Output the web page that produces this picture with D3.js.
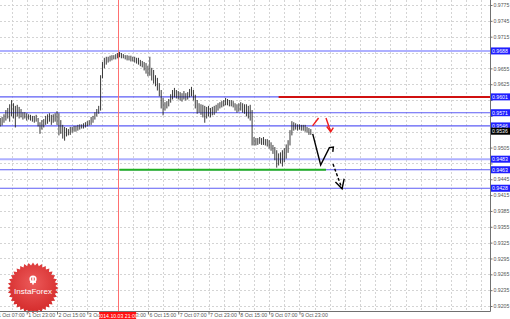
<!DOCTYPE html>
<html>
<head>
<meta charset="utf-8">
<script src="https://cdnjs.cloudflare.com/ajax/libs/d3/7.8.5/d3.min.js"></script>
<style>
  html, body { margin: 0; padding: 0; background: #fff; overflow: hidden; }
  svg { display: block; font-family: "Liberation Sans", Arial, sans-serif; }
</style>
</head>
<body>
<div id="chart"></div>
<script>
// hourly bars, high / low
const highs = [
  0.9561, 0.9563, 0.9568, 0.9576, 0.9580, 0.9587, 0.9595, 0.9589, 0.9584, 0.9586,
  0.9582, 0.9578, 0.9572, 0.9572, 0.9570, 0.9568, 0.9567, 0.9565, 0.9565, 0.9567,
  0.9561, 0.9553, 0.9557, 0.9559, 0.9565, 0.9568, 0.9570, 0.9567, 0.9568, 0.9570,
  0.9574, 0.9570, 0.9557, 0.9548, 0.9544, 0.9542, 0.9540, 0.9544, 0.9544, 0.9546,
  0.9546, 0.9548, 0.9549, 0.9549, 0.9551, 0.9553, 0.9555, 0.9557, 0.9563, 0.9565,
  0.9572, 0.9578, 0.9584, 0.9642, 0.9667, 0.9675, 0.9677, 0.9677, 0.9679, 0.9680,
  0.9680, 0.9682, 0.9684, 0.9686, 0.9684, 0.9682, 0.9680, 0.9680, 0.9679, 0.9679,
  0.9677, 0.9677, 0.9675, 0.9675, 0.9671, 0.9669, 0.9667, 0.9665, 0.9660, 0.9677,
  0.9656, 0.9652, 0.9642, 0.9637, 0.9627, 0.9614, 0.9599, 0.9591, 0.9593, 0.9597,
  0.9606, 0.9614, 0.9618, 0.9614, 0.9612, 0.9610, 0.9608, 0.9612, 0.9608, 0.9610,
  0.9616, 0.9620, 0.9614, 0.9605, 0.9595, 0.9589, 0.9587, 0.9586, 0.9584, 0.9582,
  0.9584, 0.9580, 0.9582, 0.9584, 0.9586, 0.9589, 0.9591, 0.9593, 0.9595, 0.9599,
  0.9597, 0.9595, 0.9595, 0.9593, 0.9589, 0.9587, 0.9589, 0.9591, 0.9589, 0.9587,
  0.9587, 0.9584, 0.9586, 0.9576, 0.9525, 0.9523, 0.9523, 0.9525, 0.9523, 0.9525,
  0.9521, 0.9521, 0.9519, 0.9515, 0.9510, 0.9506, 0.9500, 0.9494, 0.9496, 0.9500,
  0.9504, 0.9511, 0.9519, 0.9538, 0.9555, 0.9553, 0.9551, 0.9549, 0.9549, 0.9548,
  0.9548, 0.9548, 0.9544, 0.9542, 0.9540
];
const lows = [
  0.9546, 0.9548, 0.9553, 0.9557, 0.9561, 0.9555, 0.9565, 0.9561, 0.9544, 0.9565,
  0.9561, 0.9563, 0.9559, 0.9561, 0.9557, 0.9559, 0.9557, 0.9555, 0.9553, 0.9555,
  0.9546, 0.9532, 0.9540, 0.9544, 0.9549, 0.9551, 0.9555, 0.9549, 0.9553, 0.9555,
  0.9549, 0.9529, 0.9532, 0.9523, 0.9519, 0.9527, 0.9529, 0.9530, 0.9534, 0.9536,
  0.9536, 0.9538, 0.9540, 0.9542, 0.9542, 0.9544, 0.9546, 0.9548, 0.9549, 0.9553,
  0.9559, 0.9565, 0.9570, 0.9576, 0.9637, 0.9656, 0.9663, 0.9667, 0.9669, 0.9671,
  0.9673, 0.9673, 0.9675, 0.9677, 0.9675, 0.9675, 0.9673, 0.9671, 0.9671, 0.9669,
  0.9669, 0.9667, 0.9665, 0.9663, 0.9660, 0.9658, 0.9652, 0.9646, 0.9641, 0.9642,
  0.9633, 0.9627, 0.9622, 0.9614, 0.9603, 0.9580, 0.9567, 0.9576, 0.9580, 0.9584,
  0.9591, 0.9597, 0.9601, 0.9599, 0.9597, 0.9595, 0.9593, 0.9597, 0.9595, 0.9597,
  0.9601, 0.9603, 0.9595, 0.9580, 0.9570, 0.9572, 0.9568, 0.9563, 0.9553, 0.9561,
  0.9565, 0.9563, 0.9567, 0.9568, 0.9572, 0.9576, 0.9580, 0.9582, 0.9584, 0.9586,
  0.9586, 0.9584, 0.9584, 0.9582, 0.9576, 0.9572, 0.9574, 0.9576, 0.9572, 0.9570,
  0.9565, 0.9561, 0.9557, 0.9510, 0.9510, 0.9510, 0.9511, 0.9513, 0.9511, 0.9511,
  0.9510, 0.9508, 0.9504, 0.9500, 0.9494, 0.9482, 0.9468, 0.9472, 0.9476, 0.9470,
  0.9478, 0.9485, 0.9496, 0.9510, 0.9529, 0.9538, 0.9540, 0.9538, 0.9540, 0.9538,
  0.9538, 0.9536, 0.9534, 0.9530, 0.9530
];
const lastClose = 0.9536;

const priceTicks = [0.9775, 0.9745, 0.9715, 0.9685, 0.9655, 0.9625, 0.9595, 0.9565, 0.9535, 0.9505,
  0.9475, 0.9445, 0.9415, 0.9385, 0.9355, 0.9325, 0.9295, 0.9265, 0.9235, 0.9205];
const timeLabels = ['1 Oct 07:00', '1 Oct 23:00', '2 Oct 15:00', '3 Oct 07:00', '3 Oct 23:00',
  '6 Oct 15:00', '7 Oct 07:00', '7 Oct 23:00', '8 Oct 15:00', '9 Oct 07:00', '9 Oct 23:00'];
const firstLabelBar = -2;
const barsPerLabel = 16;

const levels = [0.9688, 0.9601, 0.9571, 0.9546, 0.9483, 0.9463, 0.9428];
const strongLevels = [0.9688, 0.9483];
const resistance = { price: 0.9601, from: 147 };
const support = { price: 0.9463, from: 63, to: 172 };
const marker = { bar: 62, label: '2014.10.03 21:00' };

// forecast arrows: [bar, price]
const arrowDown = [[165.0, 0.9531], [169.2, 0.9472], [173.8, 0.9505], [175.9, 0.9506], [175.6, 0.9497]];
const arrowDashed = [[175.7, 0.9474], [180.5, 0.9427]];
const arrowDashedHead = [[177.0, 0.9440], [180.5, 0.9427], [181.6, 0.9446]];
const redStroke = [[164.9, 0.9546], [168.1, 0.9561]];
const redArrow = [[172.0, 0.9561], [174.5, 0.9535]];
const redArrowHead = [[172.4, 0.9545], [174.5, 0.9535], [175.9, 0.9543]];

function drawChart() {
  const width = 510;
  const height = 319;
  const plotRight = 490;
  const plotBottom = 311;

  const svg = d3.select('#chart')
    .append('svg')
    .attr('width', width)
    .attr('height', height);

  const x = d3.scaleLinear().domain([0, 258.6]).range([0.2, plotRight]);
  const y = d3.scaleLinear().domain([0.9205, 0.9775]).range([306, 5]);

  // grid
  const gridBars = d3.range(firstLabelBar, 259, barsPerLabel / 2);
  svg.append('g')
    .selectAll('line')
    .data(gridBars)
    .enter()
    .append('line')
    .attr('x1', d => Math.round(x(d)) + 0.5)
    .attr('x2', d => Math.round(x(d)) + 0.5)
    .attr('y1', 0)
    .attr('y2', plotBottom)
    .attr('stroke', '#d4d4d4')
    .attr('stroke-dasharray', '2,2');

  svg.append('g')
    .selectAll('line')
    .data(priceTicks)
    .enter()
    .append('line')
    .attr('x1', 0)
    .attr('x2', plotRight)
    .attr('y1', d => Math.round(y(d)) + 0.5)
    .attr('y2', d => Math.round(y(d)) + 0.5)
    .attr('stroke', '#d4d4d4')
    .attr('stroke-dasharray', '2,2');

  // levels
  svg.append('g')
    .selectAll('line')
    .data(levels)
    .enter()
    .append('line')
    .attr('x1', 0)
    .attr('x2', plotRight)
    .attr('y1', d => y(d))
    .attr('y2', d => y(d))
    .attr('stroke', d => strongLevels.includes(d) ? '#aeb0ff' : '#5c5cf5')
    .attr('stroke-width', d => strongLevels.includes(d) ? 2 : 1.2);

  svg.append('line')
    .attr('x1', x(resistance.from))
    .attr('x2', plotRight)
    .attr('y1', y(resistance.price))
    .attr('y2', y(resistance.price))
    .attr('stroke', '#d01010')
    .attr('stroke-width', 2);

  svg.append('line')
    .attr('x1', x(support.from))
    .attr('x2', x(support.to))
    .attr('y1', y(support.price))
    .attr('y2', y(support.price))
    .attr('stroke', '#22b022')
    .attr('stroke-width', 2);

  // time marker
  svg.append('line')
    .attr('x1', Math.round(x(marker.bar)) + 0.5)
    .attr('x2', Math.round(x(marker.bar)) + 0.5)
    .attr('y1', 0)
    .attr('y2', plotBottom)
    .attr('stroke', '#ff7070');

  // bars
  svg.append('g')
    .selectAll('line')
    .data(highs)
    .enter()
    .append('line')
    .attr('x1', (d, i) => x(i))
    .attr('x2', (d, i) => x(i))
    .attr('y1', d => y(d))
    .attr('y2', (d, i) => y(lows[i]) + 0.5)
    .attr('stroke', '#222')
    .attr('stroke-width', 0.9);

  // forecast arrows
  const line = d3.line().x(d => x(d[0])).y(d => y(d[1]));
  const drawPath = (pts, color, dash) => svg.append('path')
    .attr('d', line(pts))
    .attr('fill', 'none')
    .attr('stroke', color)
    .attr('stroke-width', 1.4)
    .attr('stroke-dasharray', dash || null);
  drawPath(arrowDown, '#000');
  drawPath(arrowDashed, '#000', '3,2');
  drawPath(arrowDashedHead, '#000');
  drawPath(redStroke, '#ee1c1c');
  drawPath(redArrow, '#ee1c1c');
  drawPath(redArrowHead, '#ee1c1c');

  drawLogo(svg);

  // frame
  svg.append('path')
    .attr('d', `M0,${plotBottom + 0.5}H${plotRight + 0.5}V0`)
    .attr('fill', 'none')
    .attr('stroke', '#707070');

  const tags = levels.map(p => ({ p, fill: '#1e1eff' })).concat([{ p: lastClose, fill: '#000' }]);

  // price axis, labels hidden where a price tag sits on top of them
  const yAxis = svg.append('g')
    .attr('transform', `translate(${plotRight + 0.5},0)`)
    .call(d3.axisRight(y).tickValues(priceTicks).tickFormat(d3.format('.4f')).tickSize(2).tickSizeOuter(0));
  yAxis.select('.domain').remove();
  yAxis.selectAll('line').attr('stroke', '#707070');
  yAxis.selectAll('text')
    .attr('x', 3)
    .attr('font-size', 5.2)
    .attr('fill', '#555')
    .filter(d => tags.some(t => Math.abs(y(t.p) - y(d)) < 5))
    .remove();

  // time axis
  const tickBars = timeLabels.map((d, i) => firstLabelBar + i * barsPerLabel);
  const xAxis = svg.append('g')
    .attr('transform', `translate(0,${plotBottom + 0.5})`)
    .call(d3.axisBottom(x).tickValues(tickBars).tickFormat((d, i) => timeLabels[i]).tickSize(3).tickSizeOuter(0));
  xAxis.select('.domain').remove();
  xAxis.selectAll('line').attr('stroke', '#707070');
  xAxis.selectAll('text')
    .attr('text-anchor', 'start')
    .attr('x', 1)
    .attr('y', 1.5)
    .attr('font-size', 5.2)
    .attr('fill', '#555');

  // marker label
  const mx = x(marker.bar);
  svg.append('rect')
    .attr('x', mx - 18.5)
    .attr('y', plotBottom + 1)
    .attr('width', 37)
    .attr('height', 7)
    .attr('fill', '#ff1010');
  svg.append('text')
    .attr('x', mx)
    .attr('y', plotBottom + 6.6)
    .attr('text-anchor', 'middle')
    .attr('font-size', 5.2)
    .attr('fill', '#fff')
    .text(marker.label);

  // price tags
  tags.forEach(t => {
    svg.append('rect')
      .attr('x', plotRight + 1)
      .attr('y', y(t.p) - 3.5)
      .attr('width', 19)
      .attr('height', 7)
      .attr('fill', t.fill);
    svg.append('text')
      .attr('x', plotRight + 2)
      .attr('y', y(t.p) + 2)
      .attr('font-size', 5.2)
      .attr('fill', '#fff')
      .text(d3.format('.4f')(t.p));
  });
}

function drawLogo(svg) {
  const cx = 33, cy = 288, spikes = 36;
  const defs = svg.append('defs');
  const grad = defs.append('radialGradient').attr('id', 'logoGrad').attr('cx', '50%').attr('cy', '40%').attr('r', '60%');
  grad.append('stop').attr('offset', '0%').attr('stop-color', '#ec5a5a');
  grad.append('stop').attr('offset', '100%').attr('stop-color', '#d42a2a');

  const pts = d3.range(spikes * 2).map(i => [i * Math.PI / spikes, i % 2 ? 22.5 : 25.5]);
  svg.append('path')
    .attr('transform', `translate(${cx},${cy})`)
    .attr('d', d3.lineRadial().curve(d3.curveLinearClosed)(pts))
    .attr('fill', 'url(#logoGrad)');

  const icon = svg.append('g').attr('transform', `translate(${cx},${cy - 9})`).attr('fill', '#fff');
  icon.append('circle').attr('r', 3.6);
  icon.append('circle').attr('r', 1.9).attr('fill', '#e24444');
  icon.append('rect').attr('x', -0.8).attr('y', -2.5).attr('width', 1.6).attr('height', 8);
  icon.append('rect').attr('x', -3).attr('y', 2.5).attr('width', 6).attr('height', 1.4);

  svg.append('text')
    .attr('x', cx)
    .attr('y', cy + 6)
    .attr('text-anchor', 'middle')
    .attr('font-size', 8)
    .attr('fill', '#fff')
    .text('InstaForex');
}

drawChart();
</script>
</body>
</html>
